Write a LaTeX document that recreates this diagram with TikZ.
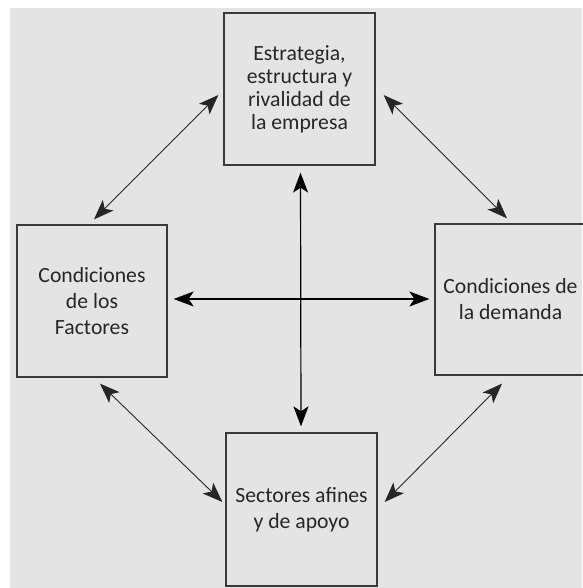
\documentclass[tikz,border=0pt]{standalone}
\usepackage{fontspec}
\setmainfont{Carlito}
\usetikzlibrary{arrows.meta}
\definecolor{bggray}{HTML}{E4E4E4}
\definecolor{boxline}{HTML}{3A3A3A}
\definecolor{txt}{HTML}{262626}
\tikzset{
  factorbox/.style={draw=boxline, line width=1.3pt, rectangle, align=center,
    text=txt, inner sep=0pt, font=\fontsize{21.7}{26}\selectfont},
  crossarrow/.style={{Stealth[length=20pt,width=15pt,inset=5pt]}-{Stealth[length=20pt,width=15pt,inset=5pt]}, line width=1.2pt, black},
  diagarrow/.style={{Stealth[length=20pt,width=15pt,inset=5pt]}-{Stealth[length=20pt,width=15pt,inset=5pt]}, line width=0.9pt, black!85}
}
\begin{document}
\begin{tikzpicture}[x=1pt,y=1pt]
\useasboundingbox (0,0) rectangle (582,588);
\fill[bggray] (10,0) rectangle (582,580);
\node[factorbox, minimum width=151pt, minimum height=152pt, font=\fontsize{21.7}{23}\selectfont] (top) at (299.5,499)
  {Estrategia,\\estructura y\\rivalidad de\\la empresa};
\node[factorbox, minimum width=150pt, minimum height=152pt] (left) at (92,287)
  {Condiciones\\de los\\Factores};
\node[factorbox, minimum width=151pt, minimum height=151pt] (right) at (510.5,288.5)
  {Condiciones de\\la demanda};
\node[factorbox, minimum width=151pt, minimum height=153pt] (bottom) at (301.5,78.5)
  {Sectores afines\\y de apoyo};
% cross
\draw[crossarrow] ([xshift=6pt,yshift=2pt]left.east) -- ([xshift=-5pt,yshift=0.5pt]right.west);
\draw[crossarrow] ([xshift=1pt,yshift=-7pt]top.south) -- ([xshift=-0.5pt,yshift=6pt]bottom.north);
% diagonals
\draw[diagarrow] ([xshift=-5pt,yshift=-6pt]top.west) -- ([xshift=2pt,yshift=5pt]left.north);
\draw[diagarrow] ([xshift=8pt,yshift=-6pt]top.east) -- ([xshift=-3.5pt,yshift=5pt]right.north);
\draw[diagarrow] ([xshift=8pt,yshift=-6pt]left.south) -- ([xshift=-3pt,yshift=7.5pt]bottom.west);
\draw[diagarrow] ([xshift=7pt,yshift=7.5pt]bottom.east) -- ([xshift=-8.5pt,yshift=-8pt]right.south);
\end{tikzpicture}
\end{document}
